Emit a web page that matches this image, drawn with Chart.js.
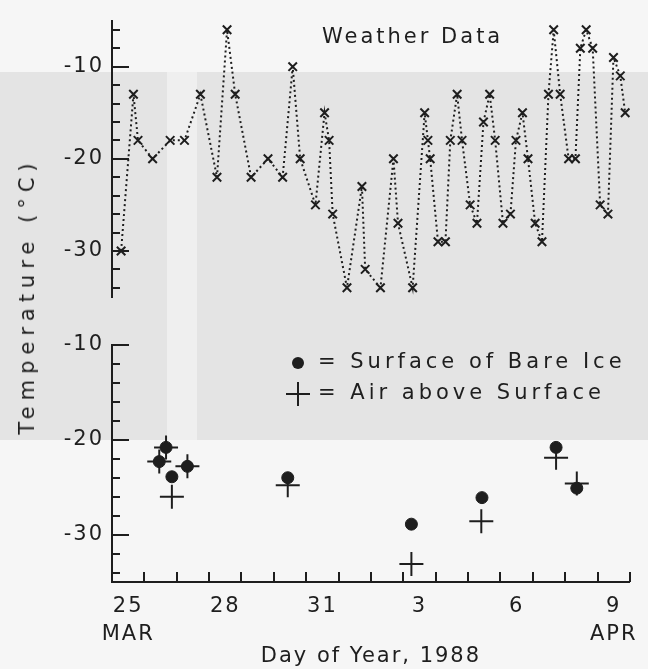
<!DOCTYPE html>
<html>
<head>
<meta charset="utf-8">
<script src="https://cdn.jsdelivr.net/npm/chart.js@4.4.1/dist/chart.umd.min.js"></script>
<style>
  body { margin: 0; background: #f6f6f6; }
  #wrap { position: relative; width: 648px; height: 669px; overflow: hidden; }
  .shade { position: absolute; }
  canvas { position: absolute; left: 0; top: 0; }
  #ytitle {
    position: absolute; left: 27px; top: 296px;
    transform: translate(-50%, -50%) rotate(-90deg);
    font: 21px "DejaVu Sans"; letter-spacing: 6px;
    white-space: nowrap; color: #1e1e1e;
  }
</style>
</head>
<body>
<div id="wrap">
  <div class="shade" style="left:0;top:72px;width:648px;height:368px;background:#e4e4e4"></div>
  <div class="shade" style="left:167px;top:72px;width:30px;height:368px;background:#efefef"></div>
  <canvas id="topChart" width="648" height="669"></canvas>
  <canvas id="bottomChart" width="648" height="669"></canvas>
  <div id="ytitle">Temperature (°C)</div>
</div>

<script>
  // top panel: weather station readings (day of year, deg C)
  const weatherDay = [85.28, 85.66, 85.80, 86.25, 86.79, 87.23, 87.72, 88.23, 88.54, 88.79,
    89.28, 89.80, 90.25, 90.56, 90.79, 91.26, 91.54, 91.68, 91.79, 92.23,
    92.69, 92.79, 93.26, 93.66, 93.80, 94.25, 94.62, 94.72, 94.79, 95.03,
    95.26, 95.41, 95.62, 95.77, 96.02, 96.23, 96.43, 96.62, 96.79, 97.03,
    97.26, 97.43, 97.63, 97.80, 98.02, 98.23, 98.43, 98.59, 98.79, 99.05,
    99.26, 99.41, 99.59, 99.79, 100.02, 100.26, 100.43, 100.64, 100.79];
  const weatherTemp = [-30, -13, -18, -20, -18, -18, -13, -22, -6, -13,
    -22, -20, -22, -10, -20, -25, -15, -18, -26, -34,
    -23, -32, -34, -20, -27, -34, -15, -18, -20, -29,
    -29, -18, -13, -18, -25, -27, -16, -13, -18, -27,
    -26, -18, -15, -20, -27, -29, -13, -6, -13, -20,
    -20, -8, -6, -8, -25, -26, -9, -11, -15];

  // bottom panel: field measurements
  const iceDay = [86.46, 86.67, 86.85, 87.33, 90.43, 94.25, 96.43, 98.72, 99.36];
  const iceTemp = [-22.3, -20.8, -23.9, -22.8, -24.0, -28.9, -26.1, -20.8, -25.1];
  const airDay = [86.46, 86.67, 86.85, 87.33, 90.43, 94.25, 96.41, 98.72, 99.36];
  const airTemp = [-22.3, -20.8, -26.0, -22.8, -24.8, -33.1, -28.6, -21.9, -24.6];

  const labelDays = [85.5, 88.5, 91.5, 94.5, 97.5, 100.5];
  const dayLabels = ['25', '28', '31', '3', '6', '9'];
  const monthLabels = ['MAR', '', '', '', '', 'APR'];
  const tempLabels = [-30, -20, -10];

  const ink = '#1e1e1e';
  const font = 'DejaVu Sans';

  const pts = (xs, ys) => xs.map((x, i) => ({ x: x, y: ys[i] }));

  // canvas letter spacing, the old plotter lettering is wide
  const spacing = {
    id: 'spacing',
    beforeLayout(chart) { chart.ctx.letterSpacing = '2px'; },
    beforeDraw(chart) { chart.ctx.letterSpacing = '2px'; }
  };

  // tick marks point into the plot area
  const tickMarks = {
    id: 'tickMarks',
    afterDraw(chart, args, opts) {
      const { ctx, chartArea: a, scales: { x, y } } = chart;
      ctx.save();
      ctx.strokeStyle = ink;
      ctx.lineWidth = 2;
      ctx.beginPath();
      for (let v = opts.yFrom; v <= opts.yTo; v += 2) {
        const py = Math.round(y.getPixelForValue(v));
        const len = v % 10 === 0 ? 17 : 8;
        ctx.moveTo(a.left, py);
        ctx.lineTo(a.left + len, py);
      }
      if (opts.xTicks) {
        for (let d = Math.ceil(x.min) + 1; d <= x.max; d++) {
          const px = Math.round(x.getPixelForValue(d));
          ctx.moveTo(px, a.bottom);
          ctx.lineTo(px, a.bottom - 10);
        }
      }
      ctx.stroke();
      ctx.restore();
    }
  };

  // free text inside the plot: title and hand-made legend
  const notes = {
    id: 'notes',
    afterDraw(chart, args, opts) {
      const ctx = chart.ctx;
      ctx.save();
      ctx.fillStyle = ink;
      ctx.strokeStyle = ink;
      ctx.font = '21px "' + font + '"';
      ctx.textBaseline = 'middle';
      opts.items.forEach(it => {
        ctx.letterSpacing = it.spacing + 'px';
        if (it.mark === 'dot') {
          ctx.beginPath();
          ctx.arc(it.x - 20, it.y, 6, 0, Math.PI * 2);
          ctx.fill();
        } else if (it.mark === 'plus') {
          ctx.lineWidth = 2;
          ctx.beginPath();
          ctx.moveTo(it.x - 32, it.y);
          ctx.lineTo(it.x - 8, it.y);
          ctx.moveTo(it.x - 20, it.y - 12);
          ctx.lineTo(it.x - 20, it.y + 12);
          ctx.stroke();
        }
        ctx.fillText(it.text, it.x, it.y);
      });
      ctx.restore();
    }
  };

  const yScale = (min, max) => ({
    type: 'linear',
    min: min,
    max: max,
    afterFit: s => { s.width = 112; },
    afterBuildTicks: s => { s.ticks = tempLabels.map(v => ({ value: v })); },
    grid: { display: true, drawOnChartArea: false, drawTicks: false },
    border: { display: true, color: ink, width: 2 },
    ticks: { color: ink, padding: 8, font: { family: font, size: 21 } }
  });

  const common = {
    responsive: false,
    animation: false,
    devicePixelRatio: 1,
    events: []
  };

  new Chart(document.getElementById('topChart'), {
    type: 'line',
    data: {
      datasets: [{
        label: 'Weather Data',
        data: pts(weatherDay, weatherTemp),
        borderColor: ink,
        borderWidth: 2,
        borderDash: [2, 3],
        pointStyle: 'crossRot',
        pointRadius: 6,
        pointBorderWidth: 2,
        pointBorderColor: ink,
        fill: false,
        tension: 0
      }]
    },
    options: Object.assign({}, common, {
      layout: { padding: { top: 13, right: 16, bottom: 372, left: 0 } },
      scales: {
        x: { type: 'linear', min: 85, max: 101, display: false },
        y: yScale(-35, -5)
      },
      plugins: {
        legend: { display: false },
        tooltip: { enabled: false },
        tickMarks: { yFrom: -34, yTo: -6, xTicks: false },
        notes: { items: [{ text: 'Weather Data', x: 322, y: 38, spacing: 3 }] }
      }
    }),
    plugins: [spacing, tickMarks, notes]
  });

  new Chart(document.getElementById('bottomChart'), {
    type: 'scatter',
    data: {
      datasets: [{
        label: 'Surface of Bare Ice',
        data: pts(iceDay, iceTemp),
        pointStyle: 'circle',
        pointRadius: 6,
        backgroundColor: ink,
        borderColor: ink
      }, {
        label: 'Air above Surface',
        data: pts(airDay, airTemp),
        pointStyle: 'cross',
        pointRadius: 12,
        borderWidth: 2,
        borderColor: ink
      }]
    },
    options: Object.assign({}, common, {
      layout: { padding: { top: 345, right: 16, bottom: 0, left: 0 } },
      scales: {
        x: {
          type: 'linear',
          min: 85,
          max: 101,
          afterFit: s => { s.height = 87; },
          afterBuildTicks: s => { s.ticks = labelDays.map(v => ({ value: v })); },
          grid: { display: true, drawOnChartArea: false, drawTicks: false },
          border: { display: true, color: ink, width: 2 },
          ticks: {
            color: ink,
            padding: 10,
            maxRotation: 0,
            autoSkip: false,
            font: { family: font, size: 21, lineHeight: 1.35 },
            callback: (v, i) => monthLabels[i] ? [dayLabels[i], monthLabels[i]] : dayLabels[i]
          },
          title: {
            display: true,
            text: 'Day of Year, 1988',
            color: ink,
            padding: { top: 0, bottom: 0 },
            font: { family: font, size: 21 }
          }
        },
        y: yScale(-35, -10)
      },
      plugins: {
        legend: { display: false },
        tooltip: { enabled: false },
        tickMarks: { yFrom: -34, yTo: -10, xTicks: true },
        notes: {
          items: [
            { text: '= Surface of Bare Ice', x: 318, y: 363, spacing: 4, mark: 'dot' },
            { text: '= Air above Surface', x: 318, y: 394, spacing: 4, mark: 'plus' }
          ]
        }
      }
    }),
    plugins: [spacing, tickMarks, notes]
  });
</script>
</body>
</html>
